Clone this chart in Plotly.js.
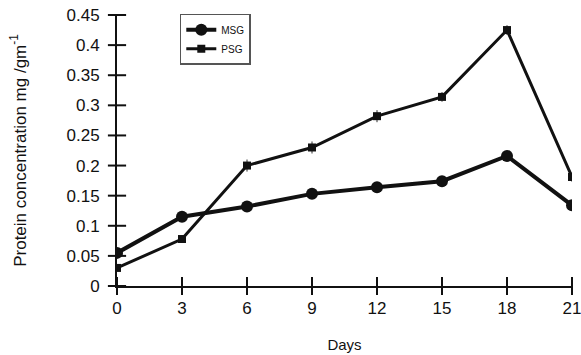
<!DOCTYPE html>
<html><head><meta charset="utf-8">
<script src="https://cdn.plot.ly/plotly-3.0.1.min.js"></script>
<style>body{margin:0;background:#fff}#c{width:581px;height:355px}</style>
</head><body><div id="c"></div>
<script>
const days = [0, 3, 6, 9, 12, 15, 18, 21];
const msg = [0.055, 0.115, 0.132, 0.153, 0.164, 0.174, 0.216, 0.134];
const psg = [0.030, 0.078, 0.200, 0.230, 0.282, 0.314, 0.425, 0.181];
const psgErr = [0.002, 0.006, 0.010, 0.010, 0.010, 0.008, 0.008, 0.008];
const xTicks = [0, 3, 6, 9, 12, 15, 18, 21];
const yTicks = [0, 0.05, 0.1, 0.15, 0.2, 0.25, 0.3, 0.35, 0.4, 0.45];
const yLabels = ['0','0.05','0.1','0.15','0.2','0.25','0.3','0.35','0.4','0.45'];

const fam = 'Liberation Sans, Arial, sans-serif';
const font = {family: fam, size: 17, color: '#111'};
const traces = [
  {x: days, y: msg, name: 'MSG', mode: 'lines+markers',
   line: {color: '#111', width: 4}, marker: {symbol: 'circle', size: 12, color: '#111'}},
  {x: days, y: psg, name: 'PSG', mode: 'lines+markers',
   line: {color: '#111', width: 3}, marker: {symbol: 'square', size: 8, color: '#111'},
   error_y: {type: 'data', array: psgErr, color: '#333', thickness: 1, width: 0}},
  {x: xTicks, y: xTicks.map(() => 0), mode: 'markers', showlegend: false, cliponaxis: false,
   marker: {symbol: 'line-ns', size: 13, line: {width: 2, color: '#111'}}, hoverinfo: 'skip'},
  {x: yTicks.map(() => 0), y: yTicks, mode: 'markers', showlegend: false, cliponaxis: false,
   marker: {symbol: 'line-ew', size: 13, line: {width: 2, color: '#111'}}, hoverinfo: 'skip'}
];
const axBase = {showgrid: false, zeroline: false, showline: true, linecolor: '#111', linewidth: 2,
  ticks: ''};
const layout = {
  width: 581, height: 355, margin: {l: 117, r: 9, t: 15, b: 69},
  paper_bgcolor: '#fff', plot_bgcolor: '#fff', font: font,
  showlegend: true,
  legend: {x: 0.138, y: 1.005, xanchor: 'left', yanchor: 'top', bgcolor: '#fff',
    bordercolor: '#555', borderwidth: 1.5, font: {family: fam, size: 10, color: '#111'},
    itemwidth: 30, tracegroupgap: 2},
  xaxis: Object.assign({}, axBase, {range: [0, 21], tickvals: xTicks, ticklabelstandoff: 6,
    ticklabeloverflow: 'allow',
    title: {text: 'Days', font: {family: fam, size: 15}, standoff: 22}}),
  yaxis: Object.assign({}, axBase, {range: [0, 0.45], tickvals: yTicks, ticktext: yLabels, ticklabelstandoff: 12,
    title: {text: 'Protein concentration mg /gm<sup>-1</sup>', font: {family: fam, size: 17}, standoff: 36}})
};
Plotly.newPlot('c', traces, layout, {staticPlot: true});
</script></body></html>
